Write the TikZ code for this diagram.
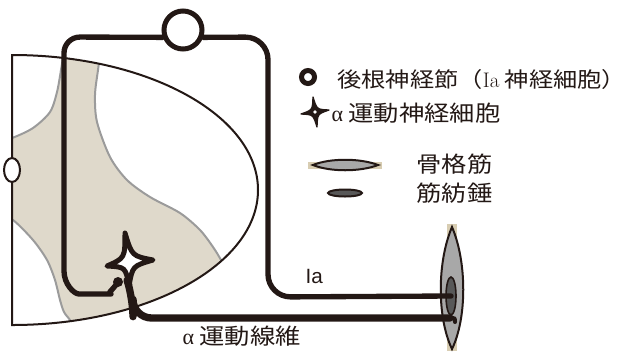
\documentclass[tikz,border=0pt]{standalone}
\usepackage{fontspec}
\usetikzlibrary{shapes.geometric}
\setsansfont{Liberation Sans}
\newfontfamily\jpfont[FakeStretch=1.15]{Noto Sans CJK JP}
\newfontfamily\grfont{Liberation Serif}

\definecolor{ink}{RGB}{35,24,21}
\definecolor{graymatter}{RGB}{223,217,203}
\definecolor{gmedge}{RGB}{155,155,155}
\definecolor{musclegray}{RGB}{168,168,168}
\definecolor{spindlegray}{RGB}{88,88,88}
\definecolor{tendon}{RGB}{216,205,178}

\tikzset{every picture/.style={line width=0.75pt}}

\begin{document}
\begin{tikzpicture}[x=0.75pt,y=0.75pt,yscale=-1,xscale=1,
		cord/.style={draw=ink, line width=1.5pt},
		gmline/.style={draw=gmedge, line width=1.5pt},
		iafiber/.style={draw=ink, line width=4pt, line cap=round, line join=round},
		axon/.style={draw=ink, line width=5.5pt, line cap=round, line join=round},
		neuron/.style={draw=ink, line width=3.75pt, line join=round},
		jp/.style={anchor=west, inner sep=0.75pt, text=ink, font=\jpfont\fontsize{16.5}{19}\selectfont}]
		\path[use as bounding box] (0,0) rectangle (631,351);
		
		% grey matter, clipped to the cord section
		\begin{scope}
			\clip (12,55) arc[start angle=-90, end angle=90, x radius=246, y radius=135] -- cycle;
			\fill[graymatter] plot[smooth] coordinates {(0,140) (12,138) (33,128) (50,112) (57,92) (61,70) (64,50) (65,40)} -- (101,40)
			-- plot[smooth] coordinates {(101,48) (98,70) (95,95) (97,122) (110,157) (127,180) (150,197) (180,213) (200,230) (213,247) (222,262) (232,285)}
			-- (232,345) -- (80,345)
			-- plot[smooth] coordinates {(76,330) (70,320) (64,312) (60,300) (55,280) (47,260) (33,240) (13,220) (0,216)} -- cycle;
			\draw[gmline] plot[smooth] coordinates {(0,140) (12,138) (33,128) (50,112) (57,92) (61,70) (64,50) (65,40)};
			\draw[gmline] plot[smooth] coordinates {(101,48) (98,70) (95,95) (97,122) (110,157) (127,180) (150,197) (180,213) (200,230) (213,247) (222,262) (232,285)};
			\draw[gmline] plot[smooth] coordinates {(76,330) (70,320) (64,312) (60,300) (55,280) (47,260) (33,240) (13,220) (0,216)};
		\end{scope}
		\draw[cord] (12,55) arc[start angle=-90, end angle=90, x radius=246, y radius=135] -- cycle;
		\draw[cord, fill=white] (12,170) ellipse [x radius=8, y radius=12];
		
		% muscle with its spindle
		\fill[tendon] (447,224) rectangle (457,351);
		\draw[draw=ink, line width=1.5pt, fill=musclegray] (452,227) .. controls (467,262) and (467,318) .. (452,349) .. controls (437,318) and (437,262) .. cycle;
		\node[ellipse, draw=ink, fill=spindlegray, line width=1.2pt, minimum width=7.5pt, minimum height=28.5pt, inner sep=0pt] (spindle) at (451,296) {};
		
		% dorsal root ganglion, motor neuron
		\node[circle, draw=ink, line width=3.75pt, fill=white, minimum size=28.5pt, inner sep=0pt] (drg) at (183,30) {};
		\coordinate (knob) at (118,282);
		\coordinate (mn-t) at (125,233);
		\coordinate (mn-r) at (153,260);
		\coordinate (mn-b) at (129,286);
		\coordinate (mn-l) at (107,266);
		\coordinate (endplate) at (450,318);
		
		% Ia afferent
		\draw[iafiber, rounded corners=12] (knob) .. controls (112,291) and (106,294) .. (95,294) .. controls (74,294) and (64,284) .. (64,255) -- (64,37) -- (drg.200);
		\draw[iafiber, rounded corners=17] (drg.-20) -- (268,37) -- (268,297) -- (spindle.center);
		
		% alpha motor fibre
		\draw[axon, rounded corners=14] (mn-b) -- (133,298) -- (133,318) -- (endplate);
		\draw[draw=ink, line width=3pt, line cap=round] (endplate) .. controls (455,318) .. (455,322);
		
		\draw[neuron, fill=white] (mn-t) .. controls (132,256) .. (mn-r) .. controls (132.5,266) .. (mn-b) .. controls (125.5,267) .. (mn-l) .. controls (125,258) .. cycle;
		\fill[ink] (knob) circle (5);
		
		% key
		\node[circle, draw=ink, line width=3.75pt, minimum size=9.75pt, inner sep=0pt] (drgkey) at (308,77) {};
		\draw[draw=ink, fill=ink, line width=1pt, line join=round] (313,97) .. controls (316.8,109.5) .. (329,110) .. controls (317.4,114) .. (317,127) .. controls (313.2,114.5) .. (301,114) .. controls (312.6,110) .. cycle;
		\fill[white] (315,112) circle (1.8);
		\fill[tendon] (308,162) rectangle (382,169);
		\draw[draw=ink, line width=1.5pt, fill=musclegray] (313,165) .. controls (330,158) and (360,158) .. (378,165) .. controls (360,172) and (330,172) .. cycle;
		\draw[draw=ink, line width=1.5pt, fill=spindlegray] (345,193) ellipse [x radius=17, y radius=3.5];
		
		\draw (336,79) node [jp, font=\jpfont\fontsize{15.8}{19}\selectfont] (drgtext) {後根神経節（{\rmfamily Ia} 神経細胞）};
		\draw (330,113) node [jp] (mntext) {{\grfont α} 運動神経細胞};
		\draw (415,164) node [jp] (muscletext) {骨格筋};
		\draw (415,193) node [jp] (spindletext) {筋紡錘};
		\draw (304,276) node [anchor=west, inner sep=0.75pt, text=ink, font=\sffamily\fontsize{15.5}{18}\selectfont] (ialabel) {Ia};
		\draw (181,336) node [jp] (axonlabel) {{\grfont α} 運動線維};
		
\end{tikzpicture}
\end{document}
